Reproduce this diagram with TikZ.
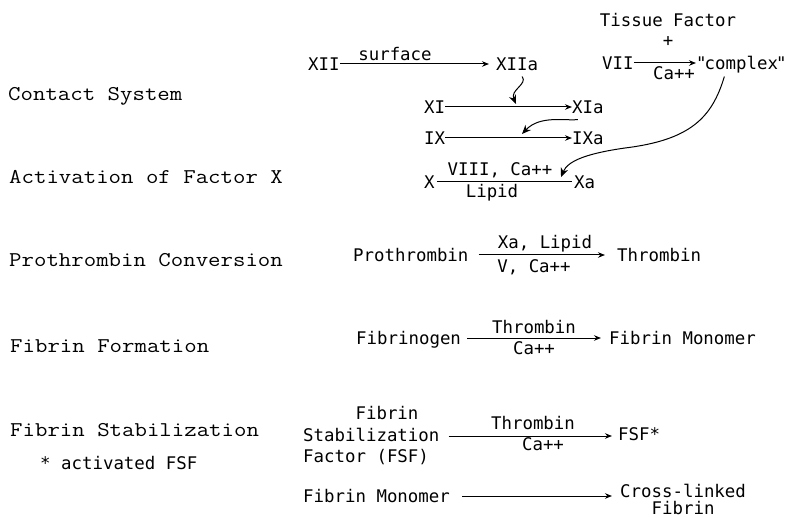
\documentclass[tikz,border=0pt]{standalone}
\usepackage{fontspec}
\usetikzlibrary{arrows.meta,calc}
\newfontfamily\labfam{Latin Modern Mono}[FakeStretch=1.15]
\newfontfamily\rfam{DejaVu Sans Mono}
\newcommand{\lf}{\labfam\fontsize{21}{24}\selectfont}
\newcommand{\rf}{\rfam\fontsize{17.4}{21.5}\selectfont}
\tikzset{
  lab/.style={font=\lf, anchor=west, inner sep=0pt, text height=12.5pt, text depth=0pt},
  tx/.style={font=\rf, anchor=west, inner sep=0pt, text height=12.7pt, text depth=0pt},
  sm/.style={font=\rf, inner sep=0pt, text height=12.7pt, text depth=0pt},
  multi/.style={font=\rf, inner sep=0pt},
  arr/.style={line width=1pt, -{Stealth[length=7pt,width=5.5pt]}},
  carr/.style={line width=1pt, -{Stealth[length=9pt,width=7.5pt]}},
  plain/.style={line width=1pt}
}
\begin{document}
\begin{tikzpicture}[x=1pt,y=-1pt]
\fill[white] (0,0) rectangle (789,518);
\useasboundingbox (0,0) rectangle (789,518);

% left column
\node[lab] (cs)  at (8,94)  {Contact System};
\node[lab] (afx) at (9,177) {Activation of Factor X};
\node[lab] (pcv) at (9,260) {Prothrombin Conversion};
\node[lab] (ffo) at (10,346) {Fibrin Formation};
\node[lab] (fst) at (10,430) {Fibrin Stabilization};
\node[tx]  (note) at (40,463) {* activated FSF};

% contact system
\node[tx] (xii)  at (308,64) {XII};
\node[tx] (xiia) at (496,64) {XIIa};
\node[sm] (surf) at (395,54) {surface};
\draw[arr, shorten >=7pt] (xii.east) -- (xiia.west);

\node[sm] (tf)   at (668,20) {Tissue Factor};
\node[sm] (plus) at (668,40) {+};
\node[tx] (vii)  at (602,63) {VII};
\node[tx] (cx)   at (696,63) {"\kern-2pt complex\kern-2pt"};
\node[sm] (ca1)  at (674,73) {Ca++};
\draw[arr] (vii.east) -- (cx.west);

\node[tx] (xi)  at (424,107) {XI};
\node[tx] (xia) at (572,107) {XIa};
\draw[arr] (xi.east) -- (xia.west);

\node[tx] (ix)  at (424,138) {IX};
\node[tx] (ixa) at (572,138) {IXa};
\draw[arr] (ix.east) -- (ixa.west);

\node[tx] (xx)  at (424,182) {X};
\node[tx] (xa)  at (574,182) {Xa};
\node[sm] (viii) at (500,169) {VIII, Ca++};
\node[sm] (lip)  at (492,191) {Lipid};
\draw[plain, shorten <=2pt, shorten >=2pt] (xx.east) -- (xa.west);

\coordinate (h1) at (516,104);
\coordinate (h2) at (522,134);
\coordinate (h3) at (561,177);
\draw[carr] ($(xiia.south)+(5,6)$) .. controls (528,84) and (510,90) .. (h1);
\draw[carr] ($(xia.south)+(-10,6)$) .. controls (565,121) and (540,115) .. (h2);
\draw[carr] ($(cx.south)+(-17,7)$) .. controls (712,118) and (690,140) .. (625,148)
   .. controls (590,153) and (568,160) .. (h3);

% prothrombin conversion
\node[tx] (pro) at (353,255) {Prothrombin};
\node[tx] (thr) at (617,255) {Thrombin};
\node[sm] (xal) at (545,242) {Xa, Lipid};
\node[sm] (vca) at (534,266) {V, Ca++};
\draw[arr, shorten <=10pt, shorten >=12pt] (pro.east) -- (thr.west);

% fibrin formation
\node[tx] (fbg) at (356,338) {Fibrinogen};
\node[tx] (fm1) at (609,338) {Fibrin Monomer};
\node[sm] (th2) at (534,327) {Thrombin};
\node[sm] (ca2) at (534,348) {Ca++};
\draw[arr, shorten <=6pt, shorten >=8pt] (fbg.east) -- (fm1.west);

% fibrin stabilization
\node[multi, align=left, anchor=west] (fsf) at (303,436)
  {\phantom{Stabi}Fibrin\\Stabilization\\Factor (FSF)};
\node[tx] (fsfa) at (618,434) {FSF*};
\node[sm] (th3) at (533,423) {Thrombin};
\node[sm] (ca3) at (543,444) {Ca++};
\draw[arr, shorten <=9pt, shorten >=6pt] (fsf.east) -- (fsf.east -| fsfa.west);

\node[tx] (fm2) at (303,496) {Fibrin Monomer};
\node[multi, align=center, anchor=north west] (cl) at (620,484)
  {Cross-linked\\[-5pt]Fibrin};
\draw[arr, shorten <=12pt, shorten >=8pt] (fm2.east) -- (fm2.east -| cl.west);
\end{tikzpicture}
\end{document}
